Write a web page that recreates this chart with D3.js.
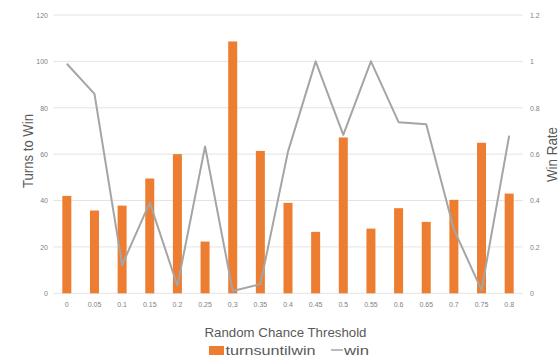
<!DOCTYPE html>
<html><head><meta charset="utf-8">
<script src="https://cdn.jsdelivr.net/npm/d3@7"></script>
<style>body{margin:0;background:#fff}text{font-family:"Liberation Sans",Arial,sans-serif}</style>
</head><body><svg id="c" width="560" height="362"></svg>
<script>
const categories = ["0","0.05","0.1","0.15","0.2","0.25","0.3","0.35","0.4","0.45","0.5","0.55","0.6","0.65","0.7","0.75","0.8"];
const turnsuntilwin = [42,35.7,37.8,49.5,60,22.3,108.6,61.4,39,26.5,67.2,27.9,36.7,30.8,40.3,64.9,43];
const win = [0.99,0.86,0.122,0.391,0.033,0.633,0.01,0.039,0.611,1.0,0.683,1.0,0.738,0.729,0.276,0.014,0.68];
const leftTicks = [0,20,40,60,80,100,120];
const rightTicks = [0,0.2,0.4,0.6,0.8,1,1.2];

const svg = d3.select("#c");
const L = 53, R = 523, T = 15, B = 293.3;
const x = d3.scaleBand().domain(categories).range([L, R]);
const yL = d3.scaleLinear().domain([0,120]).range([B, T]);
const yR = d3.scaleLinear().domain([0,1.2]).range([B, T]);

// gridlines
svg.append("g").selectAll("line").data(leftTicks).join("line")
  .attr("x1", L).attr("x2", R).attr("y1", d=>yL(d)).attr("y2", d=>yL(d))
  .attr("stroke", "#e4e4e4").attr("stroke-width", 1);

// left axis
const ga = svg.append("g").attr("transform", `translate(${L-5},0)`)
  .call(d3.axisLeft(yL).tickValues(leftTicks).tickSize(0).tickPadding(0));
ga.select(".domain").remove();
ga.selectAll("text").attr("fill", "#7f7f7f").attr("font-size", 7);

// right axis
const gr = svg.append("g").attr("transform", `translate(${R+7},0)`)
  .call(d3.axisRight(yR).tickValues(rightTicks).tickSize(0).tickPadding(0).tickFormat(d3.format("~g")));
gr.select(".domain").remove();
gr.selectAll("text").attr("fill", "#7f7f7f").attr("font-size", 7);

// bottom axis
const gx = svg.append("g").attr("transform", `translate(0,${B+5})`)
  .call(d3.axisBottom(x).tickSize(0).tickPadding(4));
gx.select(".domain").remove();
gx.selectAll("text").attr("fill", "#7f7f7f").attr("font-size", 7);

// bars
const bw = 9;
svg.append("g").selectAll("rect").data(categories).join("rect")
  .attr("x", d => x(d) + x.bandwidth()/2 - bw/2)
  .attr("width", bw)
  .attr("y", (d,i) => yL(turnsuntilwin[i]))
  .attr("height", (d,i) => B - yL(turnsuntilwin[i]))
  .attr("fill", "#ed7d31");

// line
const line = d3.line().x((d,i) => x(categories[i]) + x.bandwidth()/2).y(d => yR(d));
svg.append("path").datum(win).attr("d", line)
  .attr("fill", "none").attr("stroke", "#a5a5a5").attr("stroke-width", 2).attr("stroke-linejoin", "round");

// titles
svg.append("text").attr("transform", "translate(33,151) rotate(-90)")
  .attr("text-anchor", "middle").attr("font-size", 14).attr("fill", "#595959")
  .attr("textLength", 74).attr("lengthAdjust", "spacingAndGlyphs").text("Turns to Win");
svg.append("text").attr("transform", "translate(557,154.5) rotate(-90)")
  .attr("text-anchor", "middle").attr("font-size", 14).attr("fill", "#595959")
  .attr("textLength", 55).attr("lengthAdjust", "spacingAndGlyphs").text("Win Rate");
svg.append("text").attr("x", 285.5).attr("y", 337)
  .attr("text-anchor", "middle").attr("font-size", 13.5).attr("fill", "#595959")
  .attr("textLength", 162).attr("lengthAdjust", "spacingAndGlyphs").text("Random Chance Threshold");

// legend
const lg = svg.append("g");
lg.append("rect").attr("x", 209).attr("y", 346).attr("width", 15).attr("height", 9).attr("fill", "#ed7d31");
lg.append("text").attr("x", 225.5).attr("y", 355).attr("font-size", 13.5).attr("fill", "#595959")
  .attr("textLength", 90).attr("lengthAdjust", "spacingAndGlyphs").text("turnsuntilwin");
lg.append("line").attr("x1", 331).attr("x2", 343).attr("y1", 350).attr("y2", 350).attr("stroke", "#a5a5a5").attr("stroke-width", 1.5);
lg.append("text").attr("x", 344).attr("y", 355).attr("font-size", 13.5).attr("fill", "#595959")
  .attr("textLength", 25).attr("lengthAdjust", "spacingAndGlyphs").text("win");
</script></body></html>
